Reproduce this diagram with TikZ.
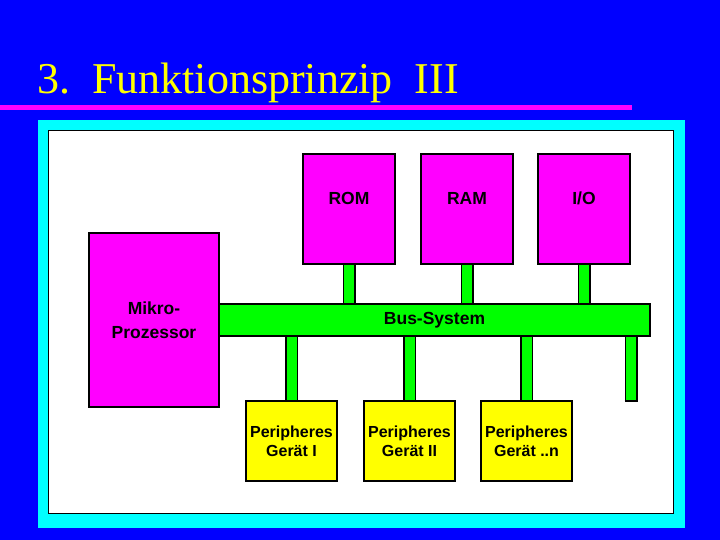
\documentclass[tikz,border=0pt]{standalone}
\usepackage{fontspec}
\setmainfont{Liberation Serif}
\setsansfont{Liberation Sans}
\definecolor{bgblue}{RGB}{0,0,255}
\definecolor{mag}{RGB}{255,0,255}
\definecolor{grn}{RGB}{0,255,0}
\definecolor{yel}{RGB}{255,255,0}
\definecolor{cyn}{RGB}{0,255,255}
\begin{document}
\begin{tikzpicture}[x=1pt,y=-1pt,
  bigfont/.style={font=\sffamily\bfseries\fontsize{17.5}{24}\selectfont},
  box/.style={draw=black, line width=2pt, anchor=north west, inner sep=0pt,
    font=\sffamily\bfseries\fontsize{16}{19}\selectfont, align=center},
  membox/.style={box, fill=mag, minimum width=92pt, minimum height=110pt},
  perbox/.style={box, fill=yel, minimum width=91pt, minimum height=80pt},
  stub/.style={draw=black, line width=1.5pt, double=grn, double distance=10pt}]
\fill[bgblue] (0,0) rectangle (720,540);
\useasboundingbox (0,0) rectangle (720,540);
\node[anchor=base west, text=yel, font=\fontsize{44}{48}\selectfont, inner sep=0pt] (title) at (37,94) {3.\ \ Funktionsprinzip\ \ III};
\fill[mag] (0,105) rectangle (632,110);
\fill[cyn] (38,120) rectangle (685,528);
\draw[black, fill=white, line width=0.8pt] (48,130) rectangle (673,513);
% bus
\node[box, bigfont, fill=grn, minimum width=431pt, minimum height=32pt] (bus) at (218,303) {Bus-System};
% memory
\node[membox, label={[bigfont, yshift=11pt]center:ROM}] (rom) at (302,153) {};
\node[membox, label={[bigfont, yshift=11pt]center:RAM}] (ram) at (420,153) {};
\node[membox, label={[bigfont, yshift=11pt]center:I/O}] (io) at (537,153) {};
% cpu
\node[box, bigfont, fill=mag, minimum width=130pt, minimum height=174pt] (cpu) at (88,232) {Mikro-\\Prozessor};
% peripherals
\node[perbox] (p1) at (245,400) {Peripheres\\Gerät I};
\node[perbox] (p2) at (363,400) {Peripheres\\Gerät II};
\node[perbox] (p3) at (480,400) {Peripheres\\Gerät ..n};
\coordinate (free) at (631,401);
% stubs
\draw[stub] (rom.south) -- (rom.south |- bus.north);
\draw[stub] (ram.south) -- (ram.south |- bus.north);
\draw[stub] (io.south) -- (io.south |- bus.north);
\draw[stub] (p1.north |- bus.south) -- (p1.north);
\draw[stub] (p2.north |- bus.south) -- (p2.north);
\draw[stub] (p3.north |- bus.south) -- (p3.north);
\draw[stub] (free |- bus.south) -- (free);
\draw[black, line width=1.5pt] ([xshift=-6.5pt]free) -- ([xshift=6.5pt]free);
\end{tikzpicture}
\end{document}
